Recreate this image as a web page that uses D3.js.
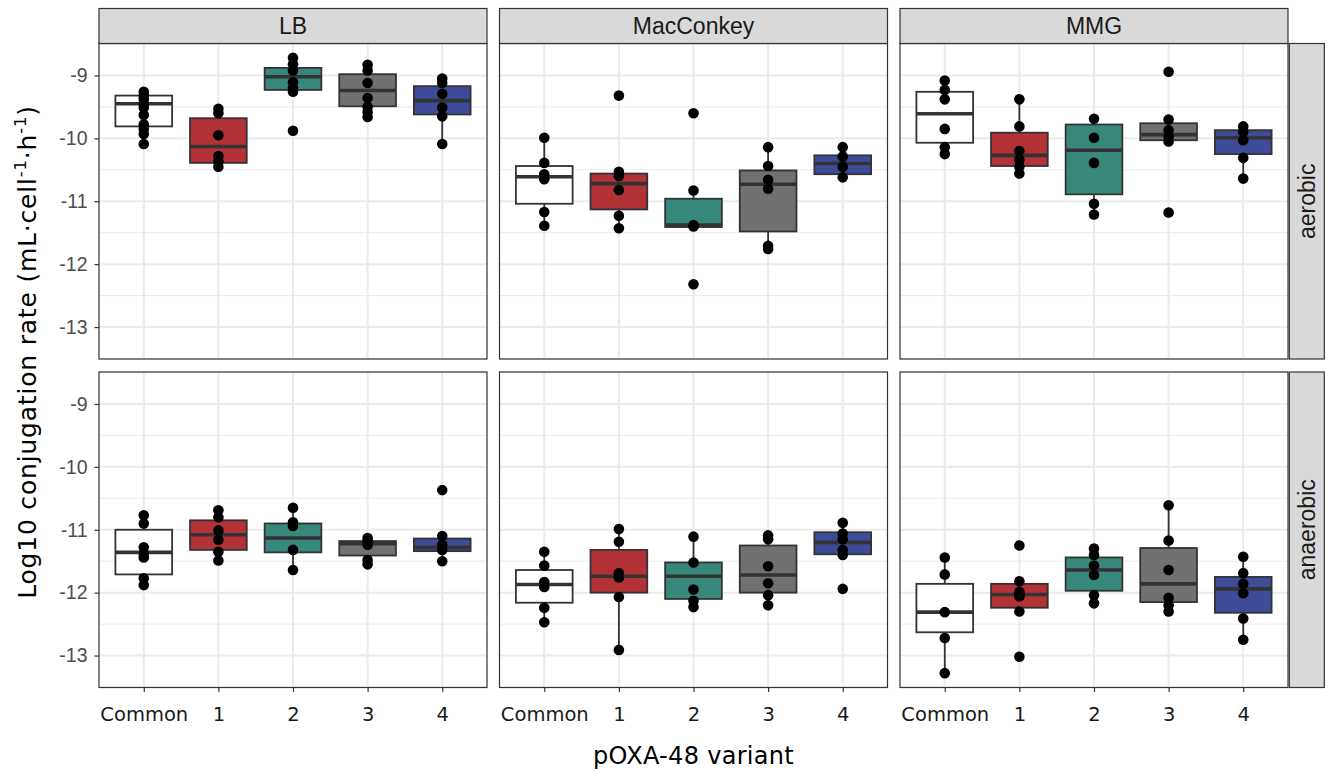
<!DOCTYPE html>
<html>
<head>
<meta charset="utf-8">
<script src="https://cdn.jsdelivr.net/npm/d3@7"></script>
<style>
  body { margin: 0; background: #ffffff; }
  svg { display: block; }
</style>
</head>
<body>
<svg id="chart" width="1331" height="772"></svg>
<script>
// Facet levels and categories
const media = ["LB", "MacConkey", "MMG"];
const oxygen = ["aerobic", "anaerobic"];
const variants = ["Common", "1", "2", "3", "4"];
const variantFill = ["#ffffff", "#b23236", "#37877a", "#717171", "#3e4b99"];
const yTicks = [-9, -10, -11, -12, -13];

// Replicate log10 conjugation rates, one list per variant (Common, 1, 2, 3, 4)
const lbAerobicPts = [
  [-9.26, -9.32, -9.38, -9.45, -9.51, -9.63, -9.78, -9.85, -9.93, -10.09],
  [-9.53, -9.60, -9.95, -10.28, -10.37, -10.45],
  [-8.72, -8.82, -8.92, -9.11, -9.20, -9.26, -9.88],
  [-8.83, -8.92, -9.12, -9.36, -9.50, -9.58, -9.66],
  [-9.05, -9.12, -9.29, -9.51, -9.65, -10.09]
];
const macAerobicPts = [
  [-9.99, -10.39, -10.57, -10.65, -11.17, -11.39],
  [-9.32, -10.53, -10.60, -10.82, -11.23, -11.43],
  [-9.60, -10.83, -11.38, -11.40, -12.32],
  [-10.14, -10.44, -10.66, -10.80, -11.71, -11.76],
  [-10.14, -10.29, -10.45, -10.62]
];
const mmgAerobicPts = [
  [-9.08, -9.23, -9.38, -9.85, -10.14, -10.25],
  [-9.38, -9.81, -10.20, -10.34, -10.45, -10.56],
  [-9.69, -9.99, -10.39, -11.04, -11.21],
  [-8.94, -9.70, -9.87, -9.97, -10.05, -11.18],
  [-9.81, -9.90, -10.03, -10.31, -10.64]
];
const lbAnaerobicPts = [
  [-10.77, -10.90, -11.28, -11.38, -11.44, -11.77, -11.88],
  [-10.69, -10.80, -11.01, -11.16, -11.35, -11.49],
  [-10.65, -10.88, -10.94, -11.32, -11.64],
  [-11.13, -11.17, -11.24, -11.48, -11.55],
  [-10.37, -11.10, -11.24, -11.32, -11.50]
];
const macAnaerobicPts = [
  [-11.35, -11.57, -11.83, -11.91, -12.24, -12.47],
  [-10.99, -11.19, -11.69, -11.76, -12.07, -12.91],
  [-11.11, -11.52, -11.95, -12.13, -12.23],
  [-11.09, -11.15, -11.58, -11.85, -12.04, -12.20],
  [-10.89, -11.06, -11.15, -11.32, -11.40, -11.94]
];
const mmgAnaerobicPts = [
  [-11.44, -11.71, -12.31, -12.72, -13.28],
  [-11.25, -11.82, -11.99, -12.03, -12.06, -12.30, -13.02],
  [-11.30, -11.40, -11.57, -11.72, -12.04, -12.17],
  [-10.61, -11.17, -11.64, -12.08, -12.20, -12.30],
  [-11.43, -11.69, -11.86, -12.01, -12.41, -12.75]
];

// Box summaries per variant: [lower whisker, Q1, median, Q3, upper whisker]
const lbAerobicBox = [
  [-10.09, -9.81, -9.45, -9.32, -9.26],
  [-10.45, -10.39, -10.13, -9.68, -9.53],
  [-9.26, -9.23, -9.02, -8.88, -8.72],
  [-9.66, -9.49, -9.24, -8.98, -8.83],
  [-10.09, -9.62, -9.40, -9.17, -9.05]
];
const macAerobicBox = [
  [-11.39, -11.04, -10.61, -10.44, -9.99],
  [-11.43, -11.13, -10.72, -10.56, -10.53],
  [-11.41, -11.41, -11.38, -10.96, -10.83],
  [-11.76, -11.48, -10.73, -10.51, -10.14],
  [-10.62, -10.57, -10.40, -10.27, -10.14]
];
const mmgAerobicBox = [
  [-10.25, -10.07, -9.61, -9.26, -9.08],
  [-10.56, -10.44, -10.27, -9.91, -9.38],
  [-11.21, -10.89, -10.19, -9.78, -9.69],
  [-10.05, -10.03, -9.94, -9.76, -9.70],
  [-10.64, -10.25, -9.99, -9.87, -9.81]
];
const lbAnaerobicBox = [
  [-11.88, -11.71, -11.36, -11.00, -10.77],
  [-11.49, -11.32, -11.08, -10.85, -10.69],
  [-11.64, -11.36, -11.13, -10.90, -10.65],
  [-11.55, -11.41, -11.22, -11.18, -11.13],
  [-11.50, -11.34, -11.28, -11.14, -11.10]
];
const macAnaerobicBox = [
  [-12.47, -12.16, -11.87, -11.64, -11.35],
  [-12.91, -12.00, -11.74, -11.32, -10.99],
  [-12.23, -12.10, -11.74, -11.52, -11.11],
  [-12.20, -12.00, -11.72, -11.25, -11.09],
  [-11.40, -11.39, -11.20, -11.04, -10.89]
];
const mmgAnaerobicBox = [
  [-13.28, -12.63, -12.31, -11.86, -11.44],
  [-12.30, -12.24, -12.03, -11.86, -11.82],
  [-12.17, -11.97, -11.64, -11.44, -11.30],
  [-12.30, -12.15, -11.86, -11.29, -10.61],
  [-12.75, -12.32, -11.94, -11.75, -11.43]
];

const panels = [
  { medium: "LB", oxygen: "aerobic", pts: lbAerobicPts, box: lbAerobicBox },
  { medium: "MacConkey", oxygen: "aerobic", pts: macAerobicPts, box: macAerobicBox },
  { medium: "MMG", oxygen: "aerobic", pts: mmgAerobicPts, box: mmgAerobicBox },
  { medium: "LB", oxygen: "anaerobic", pts: lbAnaerobicPts, box: lbAnaerobicBox },
  { medium: "MacConkey", oxygen: "anaerobic", pts: macAnaerobicPts, box: macAnaerobicBox },
  { medium: "MMG", oxygen: "anaerobic", pts: mmgAnaerobicPts, box: mmgAnaerobicBox }
];

// Layout
const padLeft = 99, panelW = 388, gapX = 12.5;
const padTop = 8.5, stripH = 35, panelH = 315.5, gapY = 13;
const rStripGap = 1.3, rStripW = 35;
const ink = "#333333";
const sansFont = "Liberation Sans, Arial, sans-serif";
const wideFont = "DejaVu Sans, Verdana, sans-serif";

const svg = d3.select("#chart");

// Shared y range with 5% expansion (fixed scales across facets)
const allVals = panels.flatMap(p => p.pts.flat().concat(p.box.flat()));
const [ymin, ymax] = d3.extent(allVals);
const pad = (ymax - ymin) * 0.05;
const minorBreaks = d3.range(-13.5, -8.4, 1);

panels.forEach(p => {
  const col = media.indexOf(p.medium);
  const row = oxygen.indexOf(p.oxygen);
  const x0 = padLeft + col * (panelW + gapX);
  const y0 = padTop + stripH + row * (panelH + gapY);

  const x = d3.scalePoint().domain(variants).range([x0, x0 + panelW]).padding(0.6);
  const y = d3.scaleLinear().domain([ymin - pad, ymax + pad]).range([y0 + panelH, y0]);
  const boxW = x.step() * 0.76;

  const g = svg.append("g");

  // panel background
  g.append("rect").attr("x", x0).attr("y", y0).attr("width", panelW).attr("height", panelH)
    .attr("fill", "#ffffff");

  // minor grid
  g.selectAll(".minor").data(minorBreaks.filter(v => v >= ymin - pad && v <= ymax + pad))
    .join("line")
    .attr("x1", x0).attr("x2", x0 + panelW)
    .attr("y1", d => y(d)).attr("y2", d => y(d))
    .attr("stroke", "#ebebeb").attr("stroke-width", 1);

  // major grid
  g.selectAll(".majorY").data(yTicks).join("line")
    .attr("x1", x0).attr("x2", x0 + panelW)
    .attr("y1", d => y(d)).attr("y2", d => y(d))
    .attr("stroke", "#ebebeb").attr("stroke-width", 2);
  g.selectAll(".majorX").data(variants).join("line")
    .attr("x1", d => x(d)).attr("x2", d => x(d))
    .attr("y1", y0).attr("y2", y0 + panelH)
    .attr("stroke", "#ebebeb").attr("stroke-width", 2);

  // boxplots
  variants.forEach((v, i) => {
    const [lo, q1, med, q3, hi] = p.box[i];
    const cx = x(v);
    const bg = g.append("g");
    bg.append("line").attr("x1", cx).attr("x2", cx).attr("y1", y(hi)).attr("y2", y(q3))
      .attr("stroke", ink).attr("stroke-width", 1.8);
    bg.append("line").attr("x1", cx).attr("x2", cx).attr("y1", y(q1)).attr("y2", y(lo))
      .attr("stroke", ink).attr("stroke-width", 1.8);
    bg.append("rect")
      .attr("x", cx - boxW / 2).attr("width", boxW)
      .attr("y", y(q3)).attr("height", y(q1) - y(q3))
      .attr("fill", variantFill[i]).attr("stroke", ink).attr("stroke-width", 1.8);
    bg.append("line").attr("x1", cx - boxW / 2).attr("x2", cx + boxW / 2)
      .attr("y1", y(med)).attr("y2", y(med))
      .attr("stroke", ink).attr("stroke-width", 3.6);
  });

  // replicate points
  variants.forEach((v, i) => {
    g.selectAll(null).data(p.pts[i]).join("circle")
      .attr("cx", x(v)).attr("cy", d => y(d)).attr("r", 5.3)
      .attr("fill", "#000000");
  });

  // panel border
  g.append("rect").attr("x", x0).attr("y", y0).attr("width", panelW).attr("height", panelH)
    .attr("fill", "none").attr("stroke", ink).attr("stroke-width", 1.2);

  // top strips
  if (row === 0) {
    g.append("rect").attr("x", x0).attr("y", padTop).attr("width", panelW).attr("height", stripH)
      .attr("fill", "#d9d9d9").attr("stroke", ink).attr("stroke-width", 1.2);
    g.append("text").attr("x", x0 + panelW / 2).attr("y", padTop + stripH / 2).attr("dy", "0.36em")
      .attr("text-anchor", "middle").attr("font-family", sansFont)
      .attr("font-size", 23).attr("fill", "#1a1a1a").text(p.medium);
  }

  // right strips
  if (col === media.length - 1) {
    const sx = x0 + panelW + rStripGap;
    g.append("rect").attr("x", sx).attr("y", y0).attr("width", rStripW).attr("height", panelH)
      .attr("fill", "#d9d9d9").attr("stroke", ink).attr("stroke-width", 1.2);
    g.append("text")
      .attr("transform", `translate(${sx + rStripW / 2},${y0 + panelH / 2}) rotate(-90)`)
      .attr("dy", "0.36em").attr("text-anchor", "middle")
      .attr("font-family", sansFont)
      .attr("font-size", 23).attr("fill", "#1a1a1a").text(p.oxygen);
  }

  // y axis
  if (col === 0) {
    const ax = g.append("g").attr("transform", `translate(${x0},0)`)
      .call(d3.axisLeft(y).tickValues(yTicks).tickFormat(d => d.toString()).tickSize(4.5).tickPadding(7));
    ax.select(".domain").remove();
    ax.selectAll(".tick line").attr("stroke", ink).attr("stroke-width", 1.2);
    ax.selectAll(".tick text").attr("font-family", sansFont)
      .attr("font-size", 19.5).attr("fill", "#4d4d4d");
  }

  // x axis
  if (row === oxygen.length - 1) {
    const ax = g.append("g").attr("transform", `translate(0,${y0 + panelH})`)
      .call(d3.axisBottom(x).tickSize(4.5).tickPadding(15));
    ax.select(".domain").remove();
    ax.selectAll(".tick line").attr("stroke", ink).attr("stroke-width", 1.2);
    ax.selectAll(".tick text").attr("font-family", wideFont)
      .attr("font-size", 19.5).attr("fill", "#1a1a1a");
  }
});

// Axis titles
const plotLeft = padLeft, plotRight = padLeft + 3 * panelW + 2 * gapX;

svg.append("text")
  .attr("x", (plotLeft + plotRight) / 2).attr("y", 764)
  .attr("text-anchor", "middle").attr("font-family", wideFont)
  .attr("font-size", 24).attr("letter-spacing", 0.3).attr("fill", "#000000").text("pOXA-48 variant");

const yt = svg.append("text")
  .attr("transform", `translate(36,352) rotate(-90)`)
  .attr("text-anchor", "middle").attr("font-family", wideFont)
  .attr("font-size", 25).attr("letter-spacing", 0.8).attr("fill", "#000000");
yt.append("tspan").text("Log10 conjugation rate (mL·cell");
yt.append("tspan").attr("font-size", 16.5).attr("dy", -10).text("-1");
yt.append("tspan").attr("dy", 10).text("·h");
yt.append("tspan").attr("font-size", 16.5).attr("dy", -10).text("-1");
yt.append("tspan").attr("dy", 10).text(")");
</script>
</body>
</html>
